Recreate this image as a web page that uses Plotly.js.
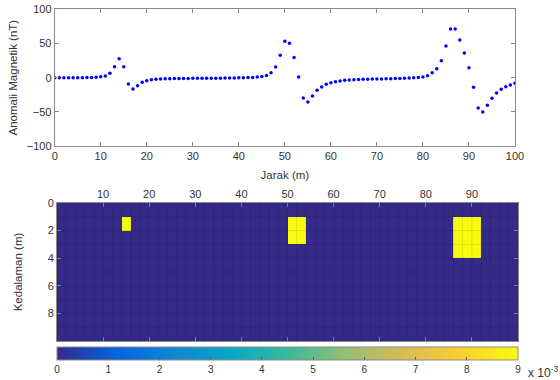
<!DOCTYPE html>
<html>
<head>
<meta charset="utf-8">
<script src="https://cdn.plot.ly/plotly-3.0.1.min.js"></script>
<style>
html,body{margin:0;padding:0;background:#fff;}
#chart{width:560px;height:380px;}
</style>
</head>
<body>
<div id="chart"></div>
<script>
// ---- Top panel: magnetic anomaly profile ----
const jarak = [0,1,2,3,4,5,6,7,8,9,10,11,12,13,14,15,16,17,18,19,20,21,22,23,24,25,26,27,28,29,30,
  31,32,33,34,35,36,37,38,39,40,41,42,43,44,45,46,47,48,49,50,51,52,53,54,55,56,57,58,59,60,
  61,62,63,64,65,66,67,68,69,70,71,72,73,74,75,76,77,78,79,80,81,82,83,84,85,86,87,88,89,90,
  91,92,93,94,95,96,97,98,99,100];
const anomali = [0,0,0,0,0,0,0,0.2,0.4,0.7,1.2,2.4,6.3,16.1,27.8,16.1,-9.3,-16.6,-11.7,-6.8,-4.4,
  -2.9,-2.2,-1.9,-1.7,-1.5,-1.4,-1.3,-1.2,-1.1,-1.0,
  -1.0,-0.9,-0.9,-0.8,-0.8,-0.7,-0.6,-0.5,-0.4,-0.3,
  -0.1,0.1,0.4,0.8,1.6,3.2,7.3,15.6,32.7,53.2,
  50.2,29.3,1.0,-29.8,-35.6,-26.8,-18.5,-13.7,-9.8,-7.3,
  -5.9,-4.9,-3.9,-3.4,-2.9,-2.6,-2.4,-2.2,-2.0,-1.9,
  -1.8,-1.6,-1.5,-1.3,-1.1,-0.9,-0.6,-0.2,0.3,1.0,
  2.9,7.3,13.2,24.9,46.3,71.2,71.2,55.1,36.1,14.6,
  -14.1,-44.4,-50.2,-40.5,-30.2,-22.4,-17.1,-13.2,-10.7,-8.3];
const topXTicks = [0,10,20,30,40,50,60,70,80,90,100];
const topYTicks = [-100,-50,0,50,100];

// ---- Bottom panel: susceptibility model ----
const jarakCell = [1,3,5,7,9,11,13,15,17,19,21,23,25,27,29,31,33,35,37,39,41,43,45,47,49,
  51,53,55,57,59,61,63,65,67,69,71,73,75,77,79,81,83,85,87,89,91,93,95,97,99];
const kedalamanCell = [0.5,1.5,2.5,3.5,4.5,5.5,6.5,7.5,8.5,9.5];
const row0 = [0,0,0,0,0,0,0,0,0,0,0,0,0,0,0,0,0,0,0,0,0,0,0,0,0,0,0,0,0,0,0,0,0,0,0,0,0,0,0,0,0,0,0,0,0,0,0,0,0,0];
const row1 = [0,0,0,0,0,0,0,0.009,0,0,0,0,0,0,0,0,0,0,0,0,0,0,0,0,0,0.009,0.009,0,0,0,0,0,0,0,0,0,0,0,0,0,0,0,0,0.009,0.009,0.009,0,0,0,0];
const row2 = [0,0,0,0,0,0,0,0,0,0,0,0,0,0,0,0,0,0,0,0,0,0,0,0,0,0.009,0.009,0,0,0,0,0,0,0,0,0,0,0,0,0,0,0,0,0.009,0.009,0.009,0,0,0,0];
const row3 = [0,0,0,0,0,0,0,0,0,0,0,0,0,0,0,0,0,0,0,0,0,0,0,0,0,0,0,0,0,0,0,0,0,0,0,0,0,0,0,0,0,0,0,0.009,0.009,0.009,0,0,0,0];
const row4 = row0.slice(), row5 = row0.slice(), row6 = row0.slice(), row7 = row0.slice(), row8 = row0.slice(), row9 = row0.slice();
const suseptibilitas = [row0,row1,row2,row3,row4,row5,row6,row7,row8,row9];
const botXTicks = [10,20,30,40,50,60,70,80,90];
const botYTicks = [0,2,4,6,8];
const cbTickVals = [0,0.001,0.002,0.003,0.004,0.005,0.006,0.007,0.008,0.009];
const cbTickText = ['0','1','2','3','4','5','6','7','8','9'];

const parula = [
  [0.0,'#352a87'],[0.125,'#0363e1'],[0.25,'#1485d4'],[0.375,'#06a7c6'],
  [0.5,'#38b99e'],[0.625,'#92bf73'],[0.75,'#d9ba56'],[0.875,'#fcce2e'],[1.0,'#f9fb0e']
];

const font = {family:'Liberation Sans, Arial, sans-serif', size:11, color:'#333'};
const axCommon = {
  showline:true, linecolor:'#8a8a8a', linewidth:1, mirror:'ticks',
  ticks:'inside', ticklen:4, tickcolor:'#8a8a8a', showgrid:false, zeroline:false,
  tickfont:{size:11, color:'#333'}
};

const traces = [
  {type:'scatter', mode:'markers', x:jarak, y:anomali, xaxis:'x', yaxis:'y',
   marker:{color:'#0000ff', size:3.5}, hoverinfo:'x+y'},
  {type:'heatmap', x:jarakCell, y:kedalamanCell, z:suseptibilitas, xaxis:'x2', yaxis:'y2',
   colorscale:parula, zmin:0, zmax:0.009,
   colorbar:{orientation:'h', x:(57+518)/2/560, xanchor:'center', len:461/560, lenmode:'fraction',
     y:1-347/380, yanchor:'top', thickness:13, xpad:0, ypad:0,
     outlinecolor:'#8a8a8a', outlinewidth:1,
     tickvals:cbTickVals, ticktext:cbTickText, ticks:'inside', ticklen:3, tickcolor:'#555',
     tickfont:{size:10, color:'#333'}}}
];

// faint cell edges (as in MATLAB pcolor/imagesc grid)
const shapes = [];
const xEdges = [0].concat(jarakCell.map(v => v + 1));
const yEdges = [0].concat(kedalamanCell.map(v => v + 0.5));
xEdges.forEach(e => shapes.push({type:'line', xref:'x2', yref:'y2', x0:e, x1:e, y0:0, y1:10,
  line:{color:'rgba(0,0,0,0.13)', width:0.8}, layer:'above'}));
yEdges.forEach(e => shapes.push({type:'line', xref:'x2', yref:'y2', x0:0, x1:100, y0:e, y1:e,
  line:{color:'rgba(0,0,0,0.13)', width:0.8}, layer:'above'}));

const layout = {
  width:560, height:380, margin:{l:0,r:0,t:0,b:0},
  paper_bgcolor:'#fff', plot_bgcolor:'#fff', font:font, showlegend:false,
  xaxis:Object.assign({}, axCommon, {domain:[54.7/560, 515/560], range:[0,100], tickvals:topXTicks,
     anchor:'y', title:{text:'Jarak (m)', font:{size:11.5, color:'#333'}, standoff:9}}),
  yaxis:Object.assign({}, axCommon, {domain:[1-146/380, 1-9.3/380], range:[-100,100], tickvals:topYTicks,
     anchor:'x', title:{text:'Anomali Magnetik (nT)', font:{size:11.5, color:'#333'}, standoff:6}}),
  xaxis2:Object.assign({}, axCommon, {domain:[57/560, 518/560], range:[0,100], tickvals:botXTicks,
     side:'top', anchor:'y2'}),
  yaxis2:Object.assign({}, axCommon, {domain:[1-341/380, 1-203/380], range:[10,0], tickvals:botYTicks,
     anchor:'x2', title:{text:'Kedalaman (m)', font:{size:11.5, color:'#333'}, standoff:22}}),
  shapes:shapes,
  annotations:[
    {xref:'paper', yref:'paper', x:526/560, y:1-372/380, xanchor:'left', yanchor:'middle',
     text:'x 10<sup>-3</sup>', showarrow:false, font:{size:12, color:'#333'}}
  ]
};

Plotly.newPlot('chart', traces, layout, {staticPlot:true, displayModeBar:false});
</script>
</body>
</html>
